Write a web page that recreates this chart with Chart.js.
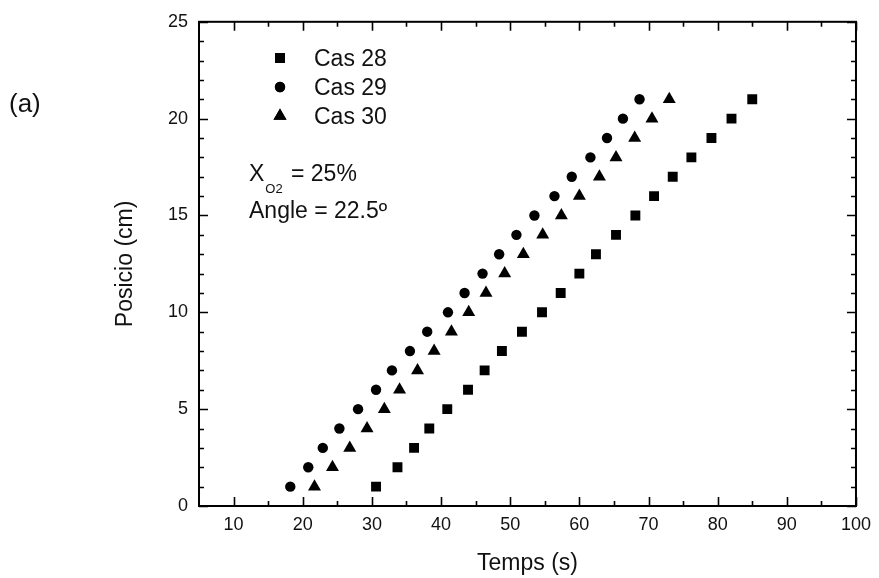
<!DOCTYPE html>
<html><head><meta charset="utf-8">
<script src="https://cdn.jsdelivr.net/npm/chart.js@4.4.1/dist/chart.umd.min.js"></script>
<style>html,body{margin:0;padding:0;background:#fff}#wrap{width:879px;height:578px;position:relative}</style>
</head><body><div id="wrap"><canvas id="c" width="879" height="578"></canvas></div>
<script>
// ---- data ----
const positions = [1,2,3,4,5,6,7,8,9,10,11,12,13,14,15,16,17,18,19,20,21];
const cas28Times = [30.6,33.7,36.1,38.3,40.9,43.9,46.3,48.8,51.7,54.6,57.3,60.0,62.4,65.3,68.1,70.8,73.5,76.2,79.1,82.0,85.0];
const cas29Times = [18.2,20.8,22.9,25.3,28.0,30.6,32.9,35.5,38.0,41.0,43.4,46.0,48.4,50.9,53.5,56.4,58.9,61.6,64.0,66.3,68.7];
const cas30Times = [21.7,24.3,26.8,29.3,31.8,34.0,36.6,39.0,41.5,44.0,46.5,49.2,51.9,54.7,57.4,60.0,62.9,65.3,68.0,70.5,73.0];
const seriesNames = ['Cas 28','Cas 29','Cas 30'];
const xTicks = [10,20,30,40,50,60,70,80,90,100];
const yTicks = [0,5,10,15,20,25];
const xMinorTicks = [15,25,35,45,55,65,75,85,95];
const yMinorTicks = [1,2,3,4,6,7,8,9,11,12,13,14,16,17,18,19,21,22,23,24];

const FONT = "'Liberation Sans', Arial, sans-serif";
const INK = '#111';

function pts(xs){ return xs.map((x,i)=>({x:x, y:positions[i]})); }

const datasets = [
  {label:seriesNames[0], data:pts(cas28Times), pointStyle:'rect', pointRadius:7, backgroundColor:'#000', borderColor:'#000', borderWidth:0},
  {label:seriesNames[1], data:pts(cas29Times), pointStyle:'circle', pointRadius:5.2, backgroundColor:'#000', borderColor:'#000', borderWidth:0},
  {label:seriesNames[2], data:pts(cas30Times), pointStyle:'triangle', pointRadius:7.5, backgroundColor:'#000', borderColor:'#000', borderWidth:0}
];

const PAD = {left:100, right:19, top:18, bottom:20};

const decor = {
  id:'decor',
  afterDraw(chart){
    const ctx = chart.ctx, a = chart.chartArea;
    const xs = chart.scales.x, ys = chart.scales.y;
    ctx.save();
    ctx.strokeStyle = '#000';
    ctx.lineWidth = 2;
    ctx.strokeRect(a.left, a.top, a.right - a.left, a.bottom - a.top);
    ctx.lineWidth = 1.6;
    ctx.beginPath();
    const tick = (v, len, horiz) => {
      if (horiz) {
        const p = Math.round(xs.getPixelForValue(v)) + 0.5;
        ctx.moveTo(p, a.bottom); ctx.lineTo(p, a.bottom - len);
        ctx.moveTo(p, a.top); ctx.lineTo(p, a.top + len);
      } else {
        const p = Math.round(ys.getPixelForValue(v)) + 0.5;
        ctx.moveTo(a.left, p); ctx.lineTo(a.left + len, p);
        ctx.moveTo(a.right, p); ctx.lineTo(a.right - len, p);
      }
    };
    xTicks.forEach(v=>tick(v,9,true));
    xMinorTicks.forEach(v=>tick(v,5,true));
    yTicks.forEach(v=>tick(v,9,false));
    yMinorTicks.forEach(v=>tick(v,5,false));
    ctx.stroke();

    // axis titles
    ctx.fillStyle = INK;
    ctx.font = '23px ' + FONT;
    ctx.textAlign = 'center';
    ctx.textBaseline = 'alphabetic';
    ctx.fillText('Temps (s)', (a.left + a.right)/2, 570);
    ctx.save();
    ctx.translate(126, (a.top + a.bottom)/2);
    ctx.rotate(-Math.PI/2);
    ctx.textBaseline = 'middle';
    ctx.fillText('Posicio (cm)', 0, 0);
    ctx.restore();

    // panel label
    ctx.font = '26px ' + FONT;
    ctx.textAlign = 'left';
    ctx.textBaseline = 'alphabetic';
    ctx.fillText('(a)', 9, 112);

    // legend
    const rowsY = [58, 87, 116];
    chart.data.datasets.forEach((ds, i) => {
      Chart.helpers.drawPoint(ctx, {pointStyle: ds.pointStyle, radius: ds.pointRadius, borderWidth: 0}, 280, rowsY[i]);
      ctx.fillStyle = '#000';
      ctx.fill();
      ctx.fillStyle = INK;
      ctx.font = '23px ' + FONT;
      ctx.fillText(ds.label, 314, rowsY[i] + 8);
    });

    // annotation
    ctx.font = '23px ' + FONT;
    ctx.fillText('X', 249, 181);
    let w = ctx.measureText('X').width;
    ctx.font = '13px ' + FONT;
    ctx.fillText('O2', 249 + w + 1, 193);
    ctx.font = '23px ' + FONT;
    ctx.fillText('= 25%', 291, 181);
    ctx.fillText('Angle = 22.5\u00BA', 249, 218);
    ctx.restore();
  }
};

new Chart(document.getElementById('c'), {
  type:'scatter',
  data:{datasets},
  options:{
    responsive:false,
    animation:false,
    devicePixelRatio:1,
    layout:{padding:PAD},
    plugins:{legend:{display:false}, tooltip:{enabled:false}},
    scales:{
      x:{
        type:'linear', min:5, max:100,
        afterBuildTicks:(s)=>{ s.ticks = xTicks.map(v=>({value:v})); },
        afterFit:(s)=>{ s.height = 578 - 506 - PAD.bottom; },
        grid:{display:false, drawTicks:false},
        border:{display:false},
        ticks:{color:INK, font:{family:FONT, size:18}, padding:8, maxRotation:0}
      },
      y:{
        type:'linear', min:0, max:25,
        afterBuildTicks:(s)=>{ s.ticks = yTicks.map(v=>({value:v})); },
        afterFit:(s)=>{ s.width = 199 - PAD.left; },
        grid:{display:false, drawTicks:false},
        border:{display:false},
        ticks:{color:INK, font:{family:FONT, size:18}, padding:11}
      }
    }
  },
  plugins:[decor]
});
</script>
</body></html>
